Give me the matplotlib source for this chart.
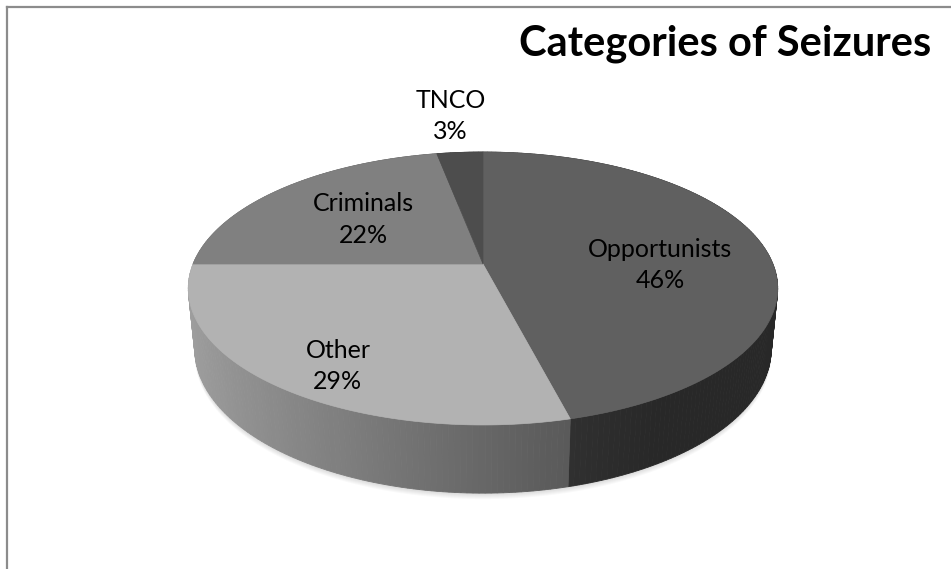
#3D style pie chart of seizure categories

import numpy as np
import matplotlib.pyplot as plt
from matplotlib.patches import Polygon
from matplotlib.lines import Line2D

categories = ["Opportunists", "Other", "Criminals", "TNCO"]
shares = [46, 29, 22, 3]
top_grays = [96, 178, 128, 77]
title = "Categories of Seizures"

# label placement: radius on the disk and a small pixel nudge
label_r = [0.6, 0.7, 0.6, 1.35]
label_nudge = [(7, 11), (-7, 21), (6, 3), (-3, -5)]

W, H = 951, 569
fig = plt.figure(figsize=(W / 100, H / 100), dpi=100)
ax = fig.add_axes([0, 0, 1, 1])
ax.set_xlim(0, W)
ax.set_ylim(H, 0)
ax.axis("off")

# camera for the tilted disk (radius 1, thickness thick)
cx, cy = 483, 264
elev = np.radians(27.1)
dist = 4.96
focal = 1438
thick = 0.236


def project(theta, r, z):
    X = r * np.sin(theta)
    Y = r * np.cos(theta)
    depth = dist + Y * np.cos(elev) - z * np.sin(elev)
    px = cx + focal * X / depth
    py = cy - focal * (Y * np.sin(elev) + z * np.cos(elev)) / depth
    return px, py


frac = np.array(shares, dtype=float) / np.sum(shares)
edges = np.concatenate([[0], np.cumsum(frac)]) * 2 * np.pi

# soft shadow under the front edge
th = np.linspace(np.pi / 2, 3 * np.pi / 2, 200)
bx, by = project(th, 1, -thick)
for k in range(1, 7):
    ax.fill(np.concatenate([bx, bx[::-1]]), np.concatenate([by + k, by[::-1] - 20]),
            color="black", alpha=0.025, lw=0)

# outer wall, drawn far to near
strips = []
for i in range(len(shares)):
    n = max(2, int(np.degrees(edges[i + 1] - edges[i])))
    th = np.linspace(edges[i], edges[i + 1], n + 1)
    for a, b in zip(th[:-1], th[1:]):
        m = 0.5 * (a + b)
        light = max(0.42, 0.58 - 0.32 * np.sin(m))
        g = top_grays[i] * light / 255.0
        x1, y1 = project(a, 1, 0)
        x2, y2 = project(b, 1, 0)
        x3, y3 = project(b, 1, -thick)
        x4, y4 = project(a, 1, -thick)
        strips.append((np.cos(m), [(x1, y1), (x2, y2), (x3, y3), (x4, y4)], (g, g, g)))

strips.sort(key=lambda s: -s[0])
for _, pts, col in strips:
    ax.add_patch(Polygon(pts, closed=True, facecolor=col, edgecolor=col, lw=0.6))

# top faces
for i in range(len(shares)):
    th = np.linspace(edges[i], edges[i + 1], 200)
    px, py = project(th, 1, 0)
    ox, oy = project(0, 0, 0)
    pts = [(ox, oy)] + list(zip(px, py))
    g = top_grays[i] / 255.0
    ax.add_patch(Polygon(pts, closed=True, facecolor=(g, g, g), edgecolor=(g, g, g), lw=0.5))

# data labels
for i in range(len(shares)):
    m = 0.5 * (edges[i] + edges[i + 1])
    lx, ly = project(m, label_r[i], 0)
    lx += label_nudge[i][0]
    ly += label_nudge[i][1]
    ax.text(lx, ly, "%s\n%d%%" % (categories[i], shares[i]), ha="center", va="center",
            fontsize=18, family="Lato", color="black", linespacing=1.45)

ax.text(725, 55, title, ha="center", va="baseline", fontsize=30, family="Lato",
        fontweight="bold", color="black")

# chart frame (only top and left edge are in the picture)
fig.add_artist(Line2D([6.5 / W, 1], [1 - 6.5 / H, 1 - 6.5 / H], color="#8c8c8c", lw=1.6))
fig.add_artist(Line2D([6.5 / W, 6.5 / W], [0, 1 - 6.5 / H], color="#8c8c8c", lw=1.6))

fig.savefig("out.png", dpi=100)
print("End")
